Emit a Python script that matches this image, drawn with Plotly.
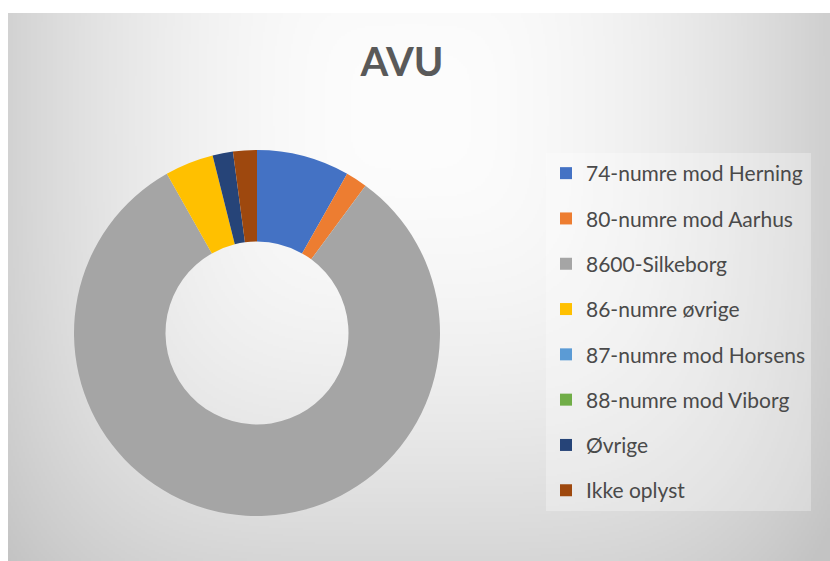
import base64
import struct
import zlib

import numpy as np
import plotly.graph_objects as go

# ---------------- data ----------------
title_text = "AVU"
categories = [
    "74-numre mod Herning",
    "80-numre mod Aarhus",
    "8600-Silkeborg",
    "86-numre øvrige",
    "87-numre mod Horsens",
    "88-numre mod Viborg",
    "Øvrige",
    "Ikke oplyst",
]
shares = [8.2, 1.9, 81.7, 4.3, 0.0, 0.0, 1.8, 2.1]
colors = ["#4472C4", "#ED7D31", "#A5A5A5", "#FFC000",
          "#5B9BD5", "#70AD47", "#264478", "#9E480E"]

W, H = 830, 561


# ---------------- background gradient (styling only) ----------------
def make_png(gray):
    h, w = gray.shape
    raw = b"".join(b"\x00" + gray[i].tobytes() for i in range(h))

    def chunk(tag, data):
        c = struct.pack(">I", len(data)) + tag + data
        return c + struct.pack(">I", zlib.crc32(tag + data) & 0xFFFFFFFF)

    ihdr = struct.pack(">IIBBBBB", w, h, 8, 0, 0, 0, 0)
    png = b"\x89PNG\r\n\x1a\n" + chunk(b"IHDR", ihdr) + \
        chunk(b"IDAT", zlib.compress(raw, 9)) + chunk(b"IEND", b"")
    return "data:image/png;base64," + base64.b64encode(png).decode()


bx0, by0 = 8, 13
bw, bh = W - bx0, H - by0
scale = 2
gh, gw = bh // scale, bw // scale
yy, xx = np.mgrid[0:gh, 0:gw].astype(float)
px = bx0 + xx * scale
py = by0 + yy * scale
cx, cy = 410.0, 110.0
fx = 42.0 * (np.abs(px - cx) / 400.0) ** 2.0
fy = 34.0 * (np.abs(py - cy) / 420.0) ** 1.8
val = 253.0 - np.sqrt(fx ** 2 + fy ** 2)
val = np.clip(val, 195, 255).astype(np.uint8)
bg_src = make_png(val)

fig = go.Figure()

fig.add_trace(go.Pie(
    labels=categories,
    values=shares,
    marker=dict(colors=colors, line=dict(width=0)),
    hole=0.5,
    sort=False,
    direction="clockwise",
    rotation=0,
    textinfo="none",
    hoverinfo="label+percent",
    showlegend=False,
    domain=dict(x=[74 / W, 440 / W], y=[1 - 516 / H, 1 - 150 / H]),
))

# legend entries (one per category, matching slice colours)
for i, (lab, col) in enumerate(zip(categories, colors)):
    fig.add_trace(go.Scatter(
        x=[None], y=[None], mode="markers", name=lab,
        legendgroup=f"g{i}",
        marker=dict(symbol="square", size=12, color=col),
        hoverinfo="skip",
    ))

fig.update_layout(
    width=W, height=H,
    margin=dict(l=0, r=0, t=0, b=0),
    paper_bgcolor="white",
    plot_bgcolor="rgba(0,0,0,0)",
    xaxis=dict(visible=False),
    yaxis=dict(visible=False),
    title=dict(
        text=f"<b>{title_text}</b>",
        x=402 / W, xanchor="center",
        y=1 - 62 / H, yanchor="middle",
        font=dict(family="Lato", size=40, color="#595959"),
    ),
    legend=dict(
        x=546 / W, xanchor="left",
        y=1 - 153 / H, yanchor="top",
        bgcolor="rgba(255,255,255,0.3)",
        font=dict(family="Lato", size=21, color="#4a4a4a"),
        tracegroupgap=15,
        traceorder="grouped",
    ),
    images=[dict(
        source=bg_src, xref="paper", yref="paper",
        x=bx0 / W, y=1 - by0 / H, sizex=bw / W, sizey=bh / H,
        xanchor="left", yanchor="top", sizing="stretch", layer="below",
    )],
    showlegend=True,
)

fig.write_html(
    "out.html",
    config={"displayModeBar": False},
    post_script="document.body.style.margin='0';document.body.style.overflow='hidden';",
)
